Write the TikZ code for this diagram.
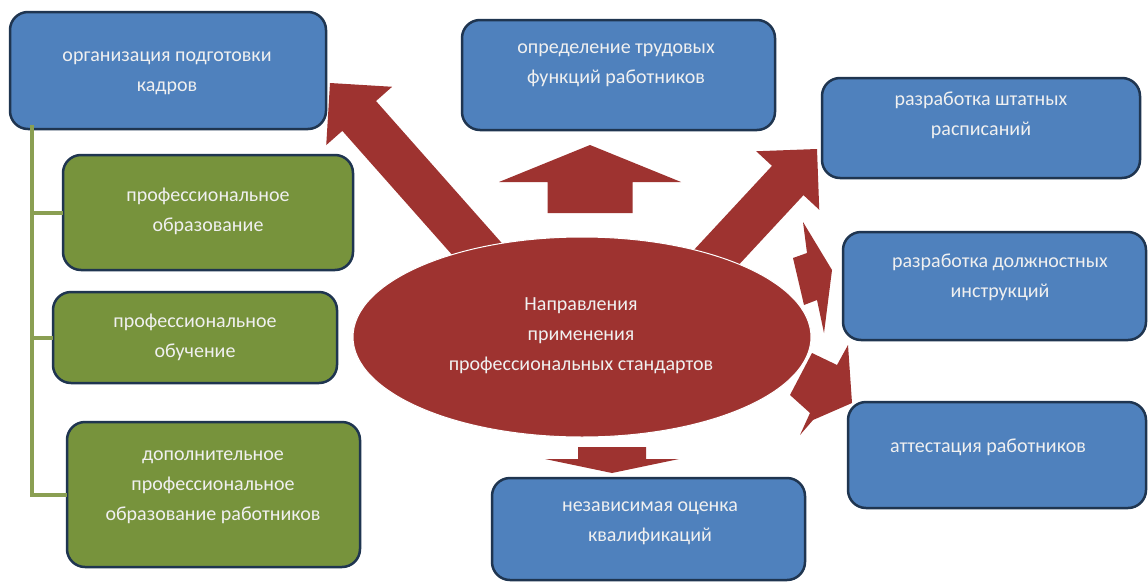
\documentclass[tikz,border=0pt]{standalone}
\usepackage{fontspec}
\setmainfont{Carlito}
\usepackage{tikz}
\usetikzlibrary{calc,shapes.geometric}

\definecolor{boxblue}{HTML}{4F81BD}
\definecolor{boxgreen}{HTML}{77933C}
\definecolor{edgedark}{HTML}{1F3550}
\definecolor{arrowred}{HTML}{9E3330}
\definecolor{treegreen}{HTML}{8A9F52}

\tikzset{
	planbox/.style={draw=edgedark, line width=2.5pt, rounded corners=18pt, outer sep=0pt, inner sep=0pt},
	bluebox/.style={planbox, fill=boxblue},
	greenbox/.style={planbox, fill=boxgreen},
	boxtext/.style={text=white!94!black, align=center, font=\fontsize{20}{30}\selectfont, inner sep=0pt},
	treeline/.style={treegreen, line width=4pt},
}

% base, tip, half shaft, half head, head length
\newcommand{\blockarrow}[5]{%
	\coordinate (ba-h) at ($(#2)!#5!(#1)$);
	\fill[arrowred] ($(#1)!#3!90:(#2)$) -- ($(ba-h)!#3!90:(#2)$) -- ($(ba-h)!#4!90:(#2)$) -- (#2)
		-- ($(ba-h)!#4!-90:(#2)$) -- ($(ba-h)!#3!-90:(#2)$) -- ($(#1)!#3!-90:(#2)$) -- cycle;
}

\begin{document}
\begin{tikzpicture}[x=1pt,y=-1pt]
	\fill[white] (0,0) rectangle (1148,584);
	\useasboundingbox (0,0) rectangle (1148,584);

	\coordinate (ul-base) at (500,275);
	\coordinate (ul-tip) at (330,83);
	\coordinate (up-base) at (590,213);
	\coordinate (up-tip) at (590,145);
	\coordinate (ur-base) at (700,275);
	\coordinate (ur-tip) at (817,149);
	\coordinate (dn-base) at (612,447);
	\coordinate (dn-tip) at (612,473);
	\blockarrow{ul-base}{ul-tip}{22.5pt}{44pt}{44pt}
	\blockarrow{up-base}{up-tip}{42.5pt}{91pt}{37pt}
	\blockarrow{ur-base}{ur-tip}{21.5pt}{43pt}{43pt}
	\blockarrow{dn-base}{dn-tip}{34pt}{67pt}{14pt}
	\fill[arrowred] (803,222) -- (832,270) -- (824,333) -- (817,300) -- (804,305) -- (793,258) -- (807,253) -- cycle;
	\fill[arrowred] (790,395) -- (812,353) -- (837,365) -- (848,345) -- (852,403) -- (813,420) -- (800,435) -- (810,413) -- cycle;

	\node[ellipse, fill=arrowred, draw=white, line width=1pt, minimum width=458pt, minimum height=200pt, inner sep=0pt] (core) at (582,337) {};
	\node[boxtext] (core-t) at (581,336) {Направления\\применения\\профессиональных стандартов};

	\node[bluebox, minimum width=316pt, minimum height=117pt] (org) at (168,70.5) {};
	\node[greenbox, minimum width=290pt, minimum height=115pt] (obr) at (208,212.5) {};
	\node[greenbox, minimum width=284pt, minimum height=91pt] (obuch) at (195,337.5) {};
	\node[greenbox, minimum width=293pt, minimum height=145pt] (dpo) at (213.5,494.5) {};
	\node[bluebox, minimum width=313pt, minimum height=110pt] (trud) at (618.5,75) {};
	\node[bluebox, minimum width=318pt, minimum height=100pt] (rasp) at (981,128) {};
	\node[bluebox, minimum width=303pt, minimum height=108pt] (instr) at (994.5,286) {};
	\node[bluebox, minimum width=298pt, minimum height=106pt] (att) at (997,455) {};
	\node[bluebox, minimum width=313pt, minimum height=102pt] (nok) at (648.5,529) {};

	\coordinate (spine) at (32,125);
	\draw[treeline] (spine) |- (obr.west);
	\draw[treeline] (spine) |- (obuch.west);
	\draw[treeline] (spine) |- (dpo.west);

	\node[boxtext] (org-t) at (167,73) {организация подготовки\\кадров};
	\node[boxtext] (obr-t) at (208,211) {профессиональное\\образование};
	\node[boxtext] (obuch-t) at (195,337) {профессиональное\\обучение};
	\node[boxtext] (dpo-t) at (213,487) {дополнительное\\профессиональное\\образование работников};
	\node[boxtext] (trud-t) at (616,65) {определение трудовых\\функций работников};
	\node[boxtext] (rasp-t) at (981,115) {разработка штатных\\расписаний};
	\node[boxtext] (instr-t) at (1000,277) {разработка должностных\\инструкций};
	\node[boxtext] (att-t) at (988,447) {аттестация работников};
	\node[boxtext] (nok-t) at (650,523) {независимая оценка\\квалификаций};
\end{tikzpicture}
\end{document}
